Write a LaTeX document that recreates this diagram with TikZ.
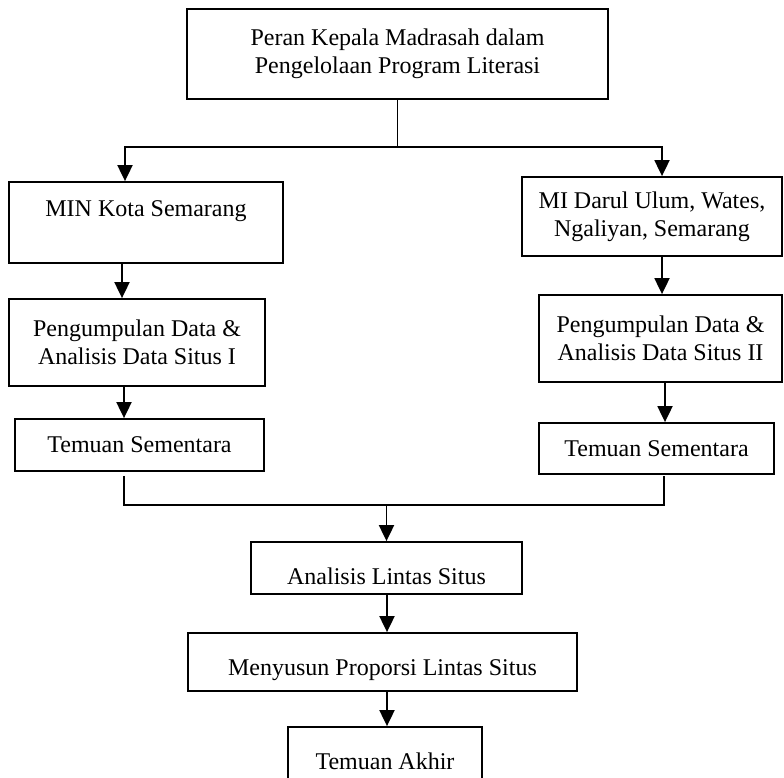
\documentclass[tikz,border=0pt]{standalone}
\usepackage{fontspec}
\setmainfont{Liberation Serif}
\usetikzlibrary{arrows.meta,calc}
\begin{document}
\begin{tikzpicture}[x=1pt,y=-1pt,
  box/.style={draw,line width=1.8pt,inner sep=0pt,align=center,
    font=\fontsize{24}{28}\selectfont},
  arr/.style={line width=1.9pt,-{Triangle[width=15pt,length=16pt]}},
  ln/.style={line width=1.9pt}]
\useasboundingbox (0,0) rectangle (784,777);
\clip (0,0) rectangle (784,777);
\node[box,minimum width=421pt,minimum height=90pt] (top) at (397.5,54)
  {Peran Kepala Madrasah dalam\\Pengelolaan Program Literasi};
\node[box,minimum width=274pt,minimum height=81pt,text height=16pt,text depth=29pt] (min) at (146,222.5)
  {MIN Kota Semarang};
\node[box,minimum width=260pt,minimum height=79pt] (r1) at (652,216.5)
  {MI Darul Ulum, Wates,\\Ngaliyan, Semarang};
\node[box,minimum width=256pt,minimum height=87pt] (l2) at (137,342.5)
  {Pengumpulan Data \&\\Analisis Data Situs I};
\node[box,minimum width=243pt,minimum height=87pt] (r2) at (660.5,338.5)
  {Pengumpulan Data \&\\Analisis Data Situs II};
\node[box,minimum width=249pt,minimum height=52pt,text height=16pt,text depth=2pt] (l3) at (139.5,445)
  {Temuan Sementara};
\node[box,minimum width=235pt,minimum height=51pt,text height=16pt,text depth=0pt] (r3) at (656.5,448.5)
  {Temuan Sementara};
\node[box,minimum width=271pt,minimum height=52pt,text height=32pt,text depth=0pt] (ana) at (386.5,568)
  {Analisis Lintas Situs};
\node[box,minimum width=389pt,minimum height=58pt,text height=26pt,text depth=0pt] (men) at (382.5,662)
  {Menyusun Proporsi Lintas Situs};
\node[box,minimum width=194pt,minimum height=73pt,text height=11pt,text depth=0pt] (akhir) at (385,763.5)
  {Temuan Akhir};
% connectors
\path (top.south) ++(0,47) coordinate (j1);
\draw[ln] (top.south) -- (j1);
\draw[arr] (j1) -| ([xshift=-21pt]min.north);
\draw[arr] (j1) -| ([xshift=10pt]r1.north);
\draw[arr] ([xshift=-24pt]min.south) -- ([xshift=-15pt]l2.north);
\draw[arr] ([xshift=-13pt]l2.south) -- ([xshift=-15.5pt]l3.north);
\draw[arr] ([xshift=10pt]r1.south) -- ([xshift=1.5pt]r2.north);
\draw[arr] ([xshift=4.5pt]r2.south) -- ([xshift=8.5pt]r3.north);
\draw[ln] ([xshift=-15.5pt]l3.south) ++(0,4) -- ++(0,29) -| ([xshift=7.5pt,yshift=-1pt]r3.south);
\coordinate (j2) at (386.5,506);
\draw[arr] (j2) -- (ana.north);
\draw[arr] ([xshift=0.5pt]ana.south) -- ([xshift=4.5pt]men.north);
\draw[arr] ([xshift=4.5pt]men.south) -- ([xshift=2pt]akhir.north);
\end{tikzpicture}
\end{document}
